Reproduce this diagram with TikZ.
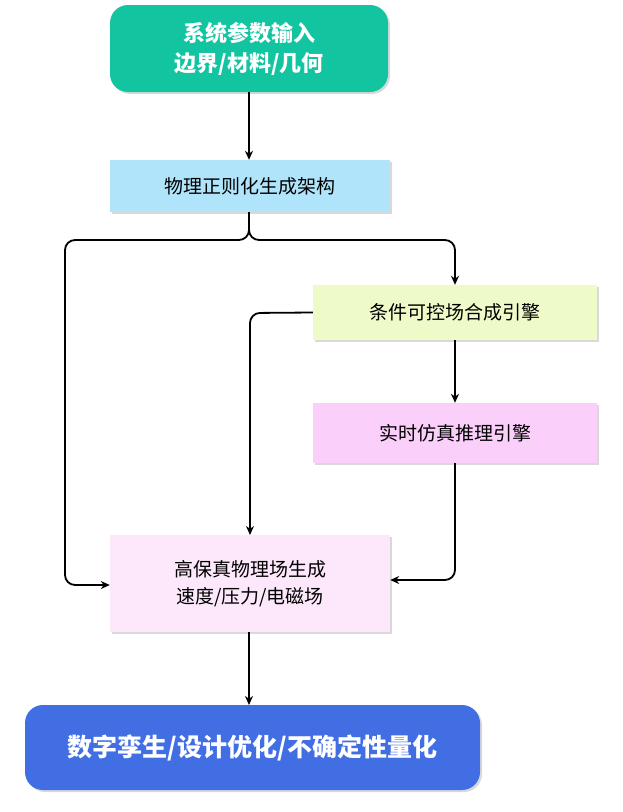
\documentclass[tikz,border=0pt]{standalone}
\usepackage{fontspec}
\setmainfont{Noto Sans CJK SC}
\usetikzlibrary{arrows.meta,shadows}
\definecolor{cteal}{RGB}{18,196,160}
\definecolor{cblue}{RGB}{176,228,250}
\definecolor{cgreen}{RGB}{238,250,200}
\definecolor{cpink}{RGB}{250,208,250}
\definecolor{clpink}{RGB}{252,232,250}
\definecolor{croyal}{RGB}{66,110,228}
\begin{document}
\begin{tikzpicture}[x=1pt,y=-1pt,
  box/.style={draw=none,minimum width=280pt,align=center,font=\fontsize{19}{27}\selectfont,drop shadow={opacity=0.3,shadow xshift=2pt,shadow yshift=-2pt}},
  big/.style={box,rounded corners=18pt,text=white,font=\bfseries\fontsize{22}{30}\selectfont},
  arr/.style={-{Stealth[length=9pt,width=8pt]},line width=1.8pt,rounded corners=10pt}]
\useasboundingbox (0,0) rectangle (622,812);
\node[big,fill=cteal,minimum width=278pt,minimum height=87pt] (a) at (249,48.5) {系统参数输入\\边界/材料/几何};
\node[box,fill=cblue,minimum width=280pt,minimum height=52pt] (b) at (250,186) {物理正则化生成架构};
\node[box,fill=cgreen,minimum width=284pt,minimum height=55pt] (c) at (455,312.5) {条件可控场合成引擎};
\node[box,fill=cpink,minimum width=284pt,minimum height=60pt] (d) at (455,433) {实时仿真推理引擎};
\node[box,fill=clpink,minimum width=280pt,minimum height=97pt] (e) at (250,583.5) {高保真物理场生成\\速度/压力/电磁场};
\node[big,fill=croyal,minimum width=455pt,minimum height=85pt,font=\bfseries\fontsize{25}{30}\selectfont] (f) at (252.5,747.5) {数字孪生/设计优化/不确定性量化};
\draw[arr] (a.south) -- (a.south|-b.north);
\draw[arr] (249,212) -- (249,240) -- (65,240) -- (65,585) -- (e.west|-0,585);
\draw[arr] (249,212) -- (249,240) -- (455,240) -- (c.north);
\draw[arr] (c.west) -- (250,313) -- (250,535);
\draw[arr] (c.south) -- (d.north);
\draw[arr] (d.south) -- (455,580) -- (e.east|-0,580);
\draw[arr] (e.south-|249,0) -- (249,705);
\end{tikzpicture}
\end{document}
